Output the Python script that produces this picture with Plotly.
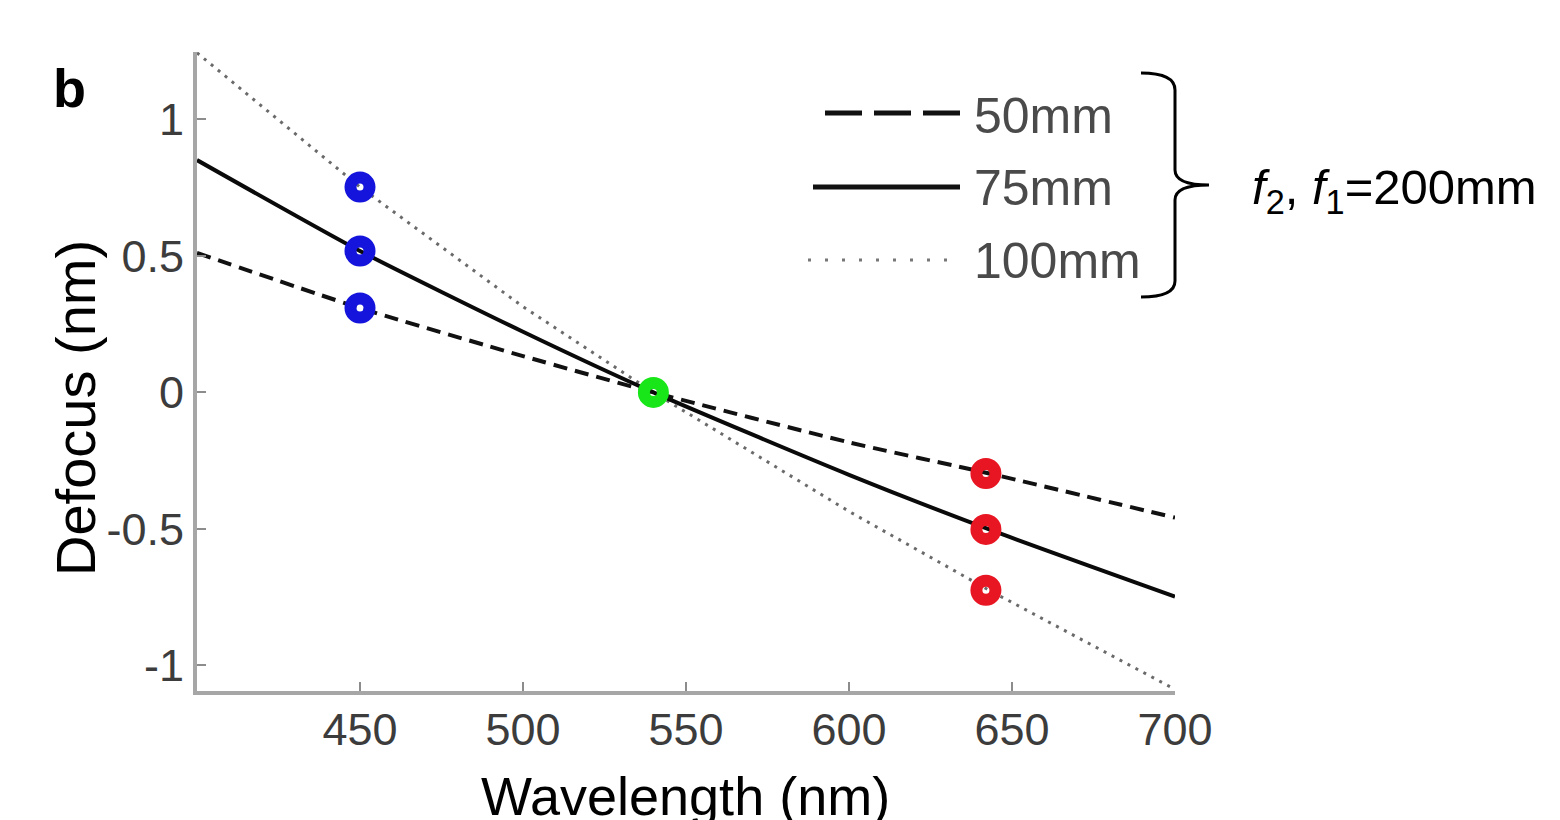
import plotly.graph_objects as go

# ---------------- data ----------------
wavelength = [400, 450, 500, 540, 600, 643, 700]
defocus_50mm = [0.511, 0.309, 0.133, 0.0, -0.183, -0.297, -0.459]
defocus_75mm = [0.851, 0.518, 0.222, 0.0, -0.302, -0.502, -0.748]
defocus_100mm = [1.244, 0.752, 0.314, 0.0, -0.436, -0.725, -1.088]

blue_wl = [450, 450, 450]
blue_val = [0.752, 0.518, 0.309]
green_wl = [540]
green_val = [0.0]
red_wl = [642, 642, 642]
red_val = [-0.297, -0.502, -0.725]

x_ticks = [450, 500, 550, 600, 650, 700]
y_ticks = [-1, -0.5, 0, 0.5, 1]
y_tick_text = ["-1", "-0.5", "0", "0.5", "1"]
legend_labels = ["50mm", "75mm", "100mm"]

# ---------------- layout geometry ----------------
W, H = 1560, 820
L, R, T, B = 197, 1175, 52, 691


def px(x):
    return (x - L) / (R - L)


def py(y):
    return (B - y) / (B - T)


NARROW = "Liberation Sans Narrow, Arial Narrow, Liberation Sans, Arial, sans-serif"
SANS = "Liberation Sans, Arial, sans-serif"

fig = go.Figure()

fig.add_trace(go.Scatter(x=wavelength, y=defocus_100mm, mode="lines",
                         line=dict(color="#6a6a6a", width=3, dash="3px,6px"),
                         showlegend=False))
fig.add_trace(go.Scatter(x=wavelength, y=defocus_75mm, mode="lines",
                         line=dict(color="#0a0a0a", width=4, dash="solid", shape="spline", smoothing=0.6),
                         showlegend=False))
fig.add_trace(go.Scatter(x=wavelength, y=defocus_50mm, mode="lines",
                         line=dict(color="#111111", width=4, dash="14px,8px", shape="spline", smoothing=0.6),
                         showlegend=False))

marker_common = dict(symbol="circle-open", size=19)
fig.add_trace(go.Scatter(x=blue_wl, y=blue_val, mode="markers",
                         marker=dict(**marker_common, color="#1414dc", line=dict(width=12, color="#1414dc")),
                         showlegend=False))
fig.add_trace(go.Scatter(x=green_wl, y=green_val, mode="markers",
                         marker=dict(**marker_common, color="#19e619", line=dict(width=12, color="#19e619")),
                         showlegend=False))
fig.add_trace(go.Scatter(x=red_wl, y=red_val, mode="markers",
                         marker=dict(**marker_common, color="#e81522", line=dict(width=12, color="#e81522")),
                         showlegend=False))

shapes = []
# manual legend lines
shapes.append(dict(type="line", xref="paper", yref="paper", x0=px(825), x1=px(960), y0=py(113), y1=py(113),
                   line=dict(color="#111111", width=5, dash="37px,12px")))
shapes.append(dict(type="line", xref="paper", yref="paper", x0=px(813), x1=px(960), y0=py(187), y1=py(187),
                   line=dict(color="#111111", width=5)))
shapes.append(dict(type="line", xref="paper", yref="paper", x0=px(808), x1=px(960), y0=py(260), y1=py(260),
                   line=dict(color="#777777", width=3, dash="3px,14px")))

# curly brace
pts = [
    ("M", [(1141, 73)]),
    ("Q", [(1175, 73), (1175, 90)]),
    ("L", [(1175, 170)]),
    ("Q", [(1175, 185), (1209, 185)]),
    ("Q", [(1175, 185), (1175, 200)]),
    ("L", [(1175, 281)]),
    ("Q", [(1175, 297), (1141, 297)]),
]
path = ""
for cmd, ps in pts:
    path += cmd + " " + " ".join(f"{px(a):.5f},{py(b):.5f}" for a, b in ps) + " "
shapes.append(dict(type="path", xref="paper", yref="paper", path=path.strip(),
                   line=dict(color="#000000", width=3)))

annotations = []
for lab, yy in zip(legend_labels, [116, 188, 261]):
    annotations.append(dict(xref="paper", yref="paper", x=px(972), y=py(yy), text=lab,
                            showarrow=False, xanchor="left", yanchor="middle",
                            font=dict(family=NARROW, size=50, color="#4a4a4a")))
annotations.append(dict(xref="paper", yref="paper", x=px(1250), y=py(190),
                        text="<i>f</i><sub>2</sub>, <i>f</i><sub>1</sub>=200mm",
                        showarrow=False, xanchor="left", yanchor="middle",
                        font=dict(family=SANS, size=49, color="#000000")))
annotations.append(dict(xref="paper", yref="paper", x=px(70), y=py(88), text="<b>b</b>",
                        showarrow=False, xanchor="center", yanchor="middle",
                        font=dict(family=SANS, size=54, color="#000000")))
annotations.append(dict(xref="paper", yref="paper", x=px(75), y=py(408), text="Defocus (nm)",
                        showarrow=False, xanchor="center", yanchor="middle", textangle=-90,
                        font=dict(family=SANS, size=56, color="#000000")))
annotations.append(dict(xref="paper", yref="paper", x=px(685), y=py(796), text="Wavelength (nm)",
                        showarrow=False, xanchor="center", yanchor="middle",
                        font=dict(family=SANS, size=54, color="#000000")))

fig.update_layout(
    width=W, height=H,
    margin=dict(l=L, r=W - R, t=T, b=H - B, pad=0),
    paper_bgcolor="white", plot_bgcolor="white",
    shapes=shapes, annotations=annotations,
    showlegend=False,
)
fig.update_xaxes(range=[400, 700], tickvals=x_ticks, ticks="inside", ticklen=9, tickwidth=2,
                 tickcolor="#8c8c8c", showline=True, linecolor="#a6a6a6", linewidth=4,
                 showgrid=False, zeroline=False, mirror=False, ticklabelstandoff=-4,
                 tickfont=dict(family=NARROW, size=45, color="#3c3c3c"))
fig.update_yaxes(range=[-1.094, 1.247], tickvals=y_ticks, ticktext=y_tick_text, ticks="inside",
                 ticklen=9, tickwidth=2, tickcolor="#8c8c8c", showline=True, linecolor="#a6a6a6",
                 linewidth=4, showgrid=False, zeroline=False, mirror=False,
                 tickfont=dict(family=NARROW, size=45, color="#3c3c3c"))

fig.write_html("out.html")
